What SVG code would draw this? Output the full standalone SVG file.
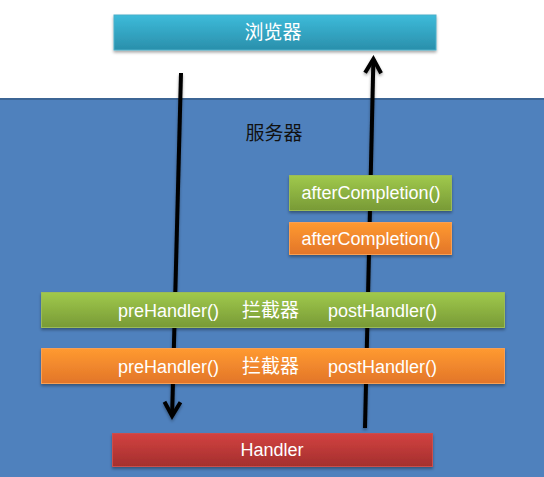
<svg xmlns="http://www.w3.org/2000/svg" width="544" height="477" viewBox="0 0 544 477">
  <style>
    .lbl { font-family: "Liberation Sans", "Noto Sans CJK SC", sans-serif; font-size: 18px; fill: #ffffff; }
    .cjk { font-family: "Noto Sans CJK SC", sans-serif; font-size: 19px; }
    .dark { fill: #111111; }
    .conn { fill: none; stroke: #000000; stroke-width: 4; }
    .box { stroke-width: 1; filter: url(#shadow); }
  </style>
  <defs>
    <linearGradient id="gBlue" x1="0" y1="0" x2="0" y2="1">
      <stop offset="0" stop-color="#3DBBDA"/>
      <stop offset="1" stop-color="#2A8FAB"/>
    </linearGradient>
    <linearGradient id="gGreen" x1="0" y1="0" x2="0" y2="1">
      <stop offset="0" stop-color="#A0C94C"/>
      <stop offset="1" stop-color="#789A36"/>
    </linearGradient>
    <linearGradient id="gOrange" x1="0" y1="0" x2="0" y2="1">
      <stop offset="0" stop-color="#FF9A30"/>
      <stop offset="1" stop-color="#E2752A"/>
    </linearGradient>
    <linearGradient id="gRed" x1="0" y1="0" x2="0" y2="1">
      <stop offset="0" stop-color="#D24240"/>
      <stop offset="1" stop-color="#A42F2E"/>
    </linearGradient>
    <filter id="shadow" x="-10%" y="-30%" width="120%" height="170%">
      <feDropShadow dx="0" dy="2" stdDeviation="1.5" flood-color="#000000" flood-opacity="0.35"/>
    </filter>
    <marker id="arrow" markerUnits="userSpaceOnUse" markerWidth="24" markerHeight="24" refX="12" refY="12" orient="auto" overflow="visible">
      <path d="M-2,4 L12,12 L-2,20" fill="none" stroke="#000000" stroke-width="4" stroke-linejoin="miter"/>
    </marker>
  </defs>

  <rect x="0" y="0" width="544" height="477" fill="#ffffff"/>

  <g id="server">
    <rect x="0" y="98" width="544" height="379" fill="#4F81BD"/>
    <rect x="0" y="98" width="544" height="2" fill="#3C6595"/>
    <text class="lbl dark" x="274" y="140" text-anchor="middle"><tspan class="cjk">服务器</tspan></text>
  </g>

  <g id="connectors" filter="url(#shadow)">
    <path class="conn" d="M181,73 L172.1,416" marker-end="url(#arrow)"/>
    <path class="conn" d="M365,428 L373.4,59" marker-end="url(#arrow)"/>
  </g>

  <g id="browser">
    <rect class="box" x="114" y="15" width="322" height="35" fill="url(#gBlue)" stroke="#4BB0CA"/>
    <text class="lbl" x="273" y="39" text-anchor="middle"><tspan class="cjk">浏览器</tspan></text>
  </g>

  <g id="after-completion-green">
    <rect class="box" x="289.5" y="175.5" width="162" height="35" fill="url(#gGreen)" stroke="#9BBB59"/>
    <text class="lbl" x="371" y="199" text-anchor="middle">afterCompletion()</text>
  </g>

  <g id="after-completion-orange">
    <rect class="box" x="289.5" y="222.5" width="162" height="32" fill="url(#gOrange)" stroke="#F8A055"/>
    <text class="lbl" x="371" y="244.5" text-anchor="middle">afterCompletion()</text>
  </g>

  <g id="interceptor-green">
    <rect class="box" x="41.5" y="292.5" width="463" height="35" fill="url(#gGreen)" stroke="#9BBB59"/>
    <text class="lbl" y="316.5"><tspan x="118">preHandler()</tspan><tspan class="cjk" x="242">拦截器</tspan><tspan x="328">postHandler()</tspan></text>
  </g>

  <g id="interceptor-orange">
    <rect class="box" x="41.5" y="348.5" width="463" height="35" fill="url(#gOrange)" stroke="#F8A055"/>
    <text class="lbl" y="372.5"><tspan x="118">preHandler()</tspan><tspan class="cjk" x="242">拦截器</tspan><tspan x="328">postHandler()</tspan></text>
  </g>

  <g id="handler">
    <rect class="box" x="112.5" y="433.5" width="320" height="33" fill="url(#gRed)" stroke="#C9504E"/>
    <text class="lbl" x="272" y="456" text-anchor="middle">Handler</text>
  </g>
</svg>
